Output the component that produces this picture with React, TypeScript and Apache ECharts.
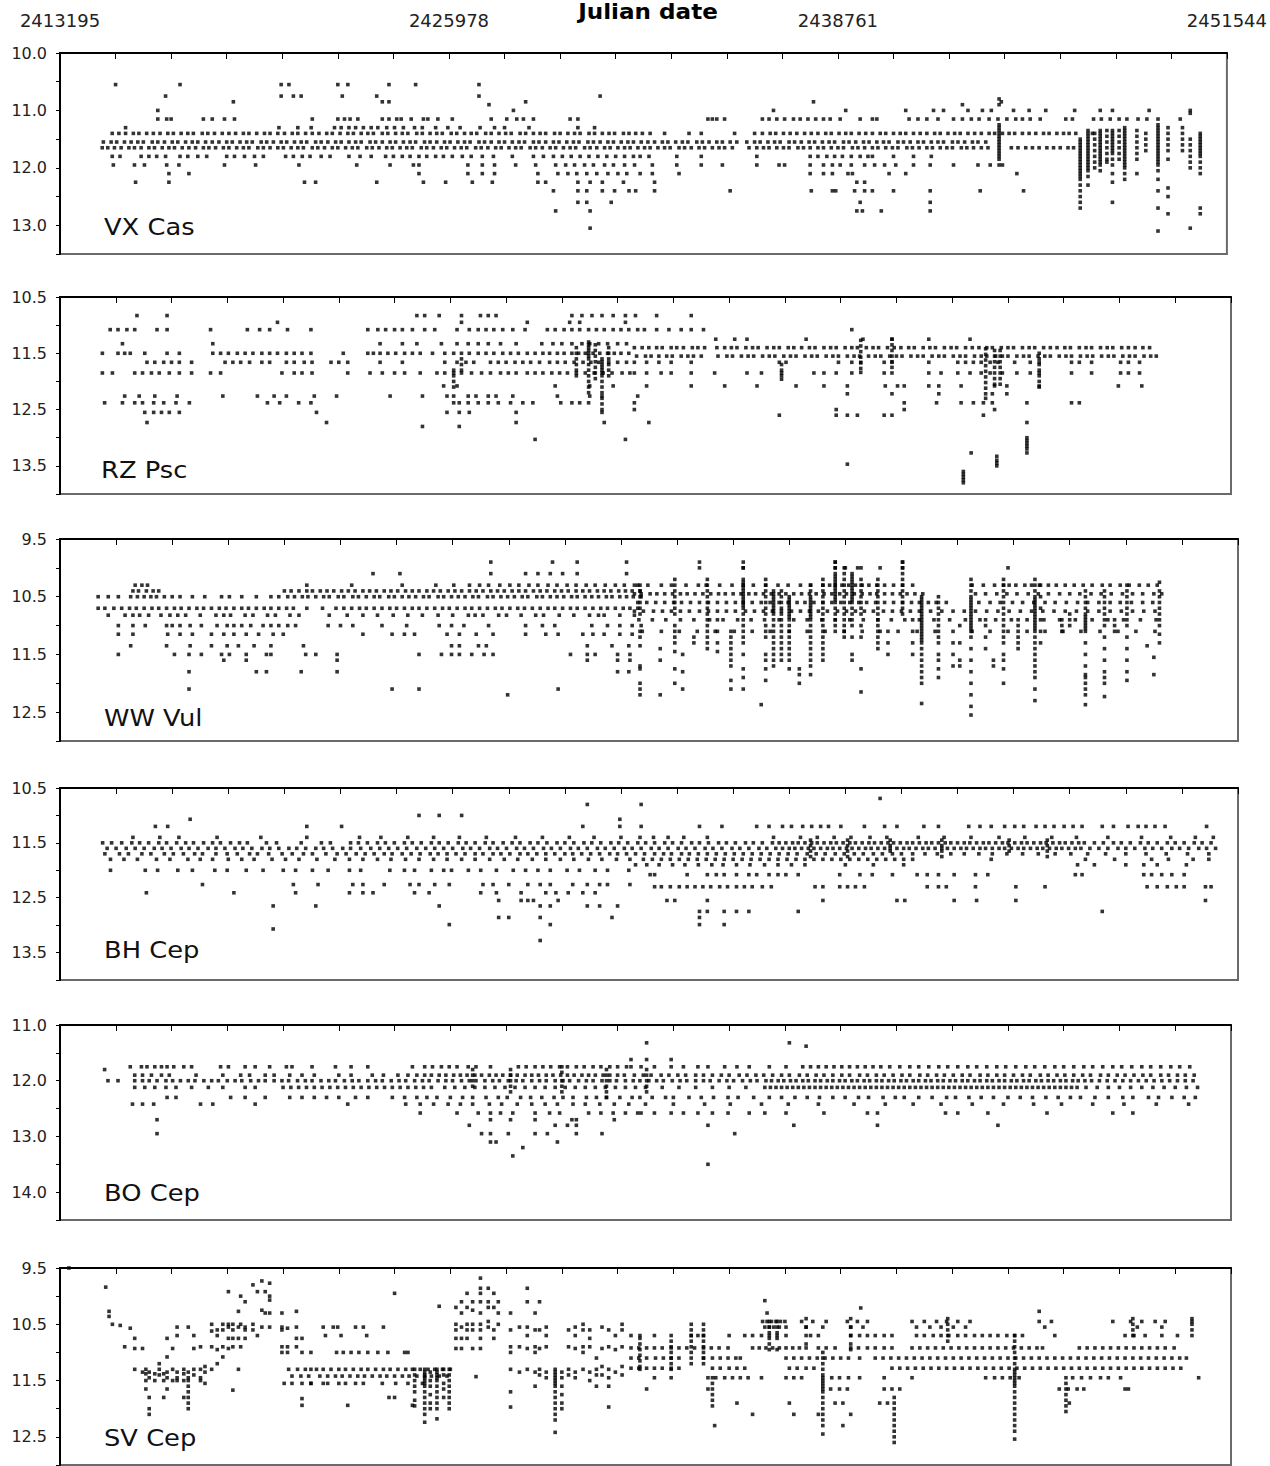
import React, { useEffect, useRef } from "react";
import * as echarts from "echarts";

// ---------- axis definitions ----------
const JD_FIRST = 2413195;
const JD_LAST = 2451544;
const JD_TICK_LABELS = ["2413195", "2425978", "2438761", "2451544"];
const SPAN_YEARS = 105; // 1895 -> 2000, ticks every 5 years
const DAYS_PER_YEAR = (JD_LAST - JD_FIRST) / SPAN_YEARS;
const TICK_COUNT = 21;
const LABEL_EVERY = 7;

const STAR_NAMES = ["VX Cas", "RZ Psc", "WW Vul", "BH Cep", "BO Cep", "SV Cep"];
const MAG_RANGES = [
  [10.0, 13.5],
  [10.5, 14.0],
  [9.5, 13.0],
  [10.5, 14.0],
  [11.0, 14.5],
  [9.5, 13.0],
];

// ---------- data ----------
// ROWS: [magnitude, years since JD 2413195 ...]   COLS: [years since JD 2413195, magnitudes ...]
const VX_CAS_ROWS: number[][] = [
  [10.55, 5.0, 10.8, 19.9, 20.6, 25.0, 25.9, 29.6, 32.0, 37.7],
  [10.75, 9.5, 19.9, 21.0, 21.7, 25.4, 28.5, 37.7, 48.6],
  [10.85, 15.6, 29.0, 29.6, 41.9, 67.8, 84.7],
  [10.9, 38.6, 81.2],
  [11.0, 8.8, 40.8, 64.2, 70.7, 76.1, 78.6, 79.5, 81.7, 83.0, 83.8, 85.8, 87.2, 88.7, 91.3, 93.6, 94.7, 98.0, 101.7],
  [11.15, 8.8, 9.6, 10.0, 12.9, 13.7, 14.8, 15.7, 22.7, 25.0, 25.6, 26.1, 26.8, 29.0, 29.6, 30.3, 30.7, 31.6, 32.7, 33.1, 34.0, 35.3, 38.8, 40.2, 41.1, 41.7, 42.6, 45.9, 46.6, 58.3, 58.7, 59.1, 59.8, 63.2, 63.8, 64.5, 65.2, 66.0, 66.6, 67.3, 68.0, 68.7, 69.3, 70.2, 72.0, 73.1, 73.5, 76.4, 77.2, 78.0, 79.0, 80.4, 81.2, 82.0, 82.7, 83.6, 84.4, 85.2, 86.0, 86.6, 87.3, 88.2, 90.5, 91.1, 93.0, 93.7, 94.5, 95.3, 96.0, 97.0, 97.8, 98.8, 100.8],
  [11.3, 5.9, 19.7, 21.4, 22.6, 24.7, 25.3, 26.0, 26.6, 27.3, 28.0, 28.6, 29.4, 30.1, 30.9, 31.9, 32.6, 33.8, 34.9, 36.0, 37.8, 39.1, 40.0, 42.2, 46.6, 48.1],
  [11.4, 4.7, 5.3, 5.9, 6.6, 7.1, 7.8, 8.4, 9.0, 9.7, 10.2, 10.9, 11.5, 12.0, 12.8, 13.3, 13.9, 14.6, 15.2, 15.8, 16.5, 17.0, 17.7, 18.4, 18.9, 19.6, 20.2, 20.9, 21.4, 22.1, 22.7, 23.3, 24.0, 24.5, 25.2, 25.9, 26.4, 27.1, 27.7, 28.2, 29.0, 29.5, 30.2, 30.8, 31.3, 32.1, 32.6, 33.3, 33.9, 34.4, 35.2, 35.7, 36.4, 37.0, 37.5, 38.3, 38.8, 39.5, 40.1, 40.6, 41.4, 41.9, 42.6, 43.2, 43.7, 44.5, 45.0, 45.7, 46.3, 46.8, 47.6, 48.1, 48.8, 49.4, 49.9, 50.7, 51.2, 51.8, 52.4, 53.1, 54.4, 56.6, 57.7, 60.7, 62.5, 63.2, 63.9, 64.4, 65.1, 65.7, 66.3, 67.0, 67.6, 68.2, 68.9, 69.4, 70.1, 70.7, 71.2, 71.9, 72.5, 73.1, 73.8, 74.3, 75.0, 75.6, 76.1, 76.8, 77.4, 78.0, 78.7, 79.2, 79.9, 80.5, 81.0, 81.7, 82.3, 82.9, 83.6, 84.1, 84.8, 85.4, 85.9, 86.6, 87.2, 87.8, 88.5, 89.0, 89.7, 90.3, 90.8, 91.4, 92.9],
  [11.55, 3.9, 4.6, 5.1, 5.8, 6.4, 7.0, 7.5, 8.3, 8.8, 9.4, 10.1, 10.6, 11.3, 11.9, 12.4, 13.1, 13.7, 14.3, 15.0, 15.5, 16.2, 16.8, 17.3, 18.1, 18.6, 19.2, 19.9, 20.4, 21.1, 21.7, 22.2, 23.0, 23.5, 24.1, 24.8, 25.3, 26.0, 26.6, 27.1, 27.9, 28.4, 29.0, 29.7, 30.2, 30.9, 31.5, 32.0, 32.8, 33.3, 33.9, 34.6, 35.1, 35.8, 36.4, 36.9, 37.7, 38.2, 38.8, 39.5, 40.0, 40.7, 41.3, 41.8, 42.6, 43.1, 43.7, 44.4, 44.9, 45.6, 46.2, 46.7, 47.5, 48.0, 48.6, 49.3, 49.8, 50.5, 51.1, 51.6, 52.3, 52.9, 53.5, 54.2, 54.7, 55.4, 56.0, 56.5, 57.3, 57.8, 58.4, 59.1, 59.6, 60.3, 60.9, 61.8, 62.5, 63.0, 63.7, 64.3, 64.8, 65.6, 66.1, 66.7, 67.4, 67.9, 68.6, 69.2, 69.7, 70.5, 71.0, 71.6, 72.3, 72.8, 73.5, 74.1, 74.6, 75.4, 75.9, 76.5, 77.2, 77.7, 78.4, 79.0, 79.5, 80.3, 80.8, 81.4, 82.1, 82.6, 83.3],
  [11.65, 3.8, 4.3, 4.9, 5.5, 6.2, 6.7, 7.3, 8.0, 8.5, 9.2, 9.8, 10.3, 11.0, 11.6, 12.2, 12.9, 13.4, 14.0, 14.7, 15.2, 15.9, 16.5, 17.0, 17.8, 18.3, 18.9, 19.6, 20.1, 20.8, 21.4, 21.9, 22.7, 23.2, 23.8, 24.5, 25.0, 25.7, 26.3, 26.8, 27.6, 28.1, 28.7, 29.4, 29.9, 30.6, 31.2, 31.7, 32.5, 33.0, 33.6, 34.3, 34.8, 35.5, 36.1, 36.6, 37.4, 37.9, 38.5, 39.2, 39.7, 40.4, 41.0, 41.5, 42.3, 42.8, 43.4, 44.1, 44.6, 45.3, 45.9, 46.4, 47.2, 47.7, 48.3, 49.0, 49.5, 50.2, 50.8, 51.3, 52.0, 52.6, 53.1, 53.8, 54.4, 54.9, 55.7, 56.2, 56.8, 57.5, 58.0, 58.7, 59.3, 59.8, 60.5, 62.0, 62.7, 63.3, 63.8, 64.5, 65.1, 65.6, 66.4, 66.9, 67.5, 68.2, 68.7, 69.4, 70.0, 70.5, 71.3, 71.8, 72.4, 73.1, 73.6, 74.3, 74.9, 75.4, 76.2, 76.7, 77.3, 78.0, 78.5, 79.2, 79.8, 80.3, 81.1, 81.6, 82.2, 82.9, 83.5, 85.6, 86.2, 86.9, 87.5, 88.1, 88.8, 89.4, 90.0, 90.7, 91.2],
  [11.8, 4.7, 5.4, 7.3, 8.0, 8.7, 9.5, 10.8, 11.5, 12.4, 13.2, 15.0, 15.7, 16.6, 17.5, 18.3, 20.3, 21.0, 21.8, 22.5, 23.5, 24.3, 26.0, 27.0, 28.0, 29.3, 30.0, 30.8, 31.5, 32.3, 33.0, 33.8, 34.5, 35.3, 36.2, 37.0, 38.0, 39.0, 40.7, 42.6, 43.5, 44.4, 45.2, 46.0, 46.8, 47.6, 48.4, 49.2, 50.0, 50.8, 51.6, 52.2, 53.0, 55.5, 57.7, 62.7, 67.5, 68.2, 69.0, 69.7, 70.4, 71.2, 72.0, 72.7, 73.1, 75.0, 76.8, 78.4],
  [11.95, 4.8, 6.7, 7.6, 9.6, 10.7, 14.8, 17.6, 21.5, 26.7, 29.7, 31.8, 32.3, 36.7, 38.0, 39.1, 41.0, 42.8, 44.6, 45.5, 46.3, 47.2, 48.0, 49.0, 49.8, 50.8, 51.7, 53.3, 55.5, 57.7, 59.6, 62.7, 64.7, 65.2, 67.5, 68.7, 69.5, 70.2, 71.2, 72.4, 73.3, 74.2, 75.2, 76.8, 78.3, 80.4, 82.6, 83.7, 84.8],
  [12.1, 9.8, 11.6, 32.3, 36.7, 38.0, 39.1, 43.0, 44.8, 45.7, 46.5, 47.4, 48.3, 49.3, 50.2, 51.0, 52.2, 53.3, 55.7, 67.5, 68.7, 69.5, 70.9, 71.3, 74.6, 76.1, 86.1],
  [12.25, 6.8, 9.8, 22.0, 23.0, 28.5, 32.7, 34.7, 37.1, 38.9, 43.0, 43.7, 46.6, 47.7, 48.8, 50.7, 53.5, 71.7, 72.4],
  [12.4, 44.4, 46.6, 47.4, 48.8, 49.9, 51.2, 51.8, 53.5, 60.3, 67.6, 69.5, 69.8, 71.5, 72.4, 73.1, 75.0, 78.3, 82.8, 86.7],
  [12.6, 46.6, 47.4, 49.6, 72.0, 78.3],
  [12.75, 44.6, 47.7, 71.7, 72.2, 73.9, 78.3],
  [13.05, 47.7],
];
const VX_CAS_COLS: number[][] = [
  [84.5, 10.8, 10.9, 11.25, 11.3, 11.35, 11.4, 11.45, 11.5, 11.55, 11.6, 11.65, 11.7, 11.75, 11.8, 11.85, 11.95],
  [91.8, 11.5, 11.55, 11.6, 11.65, 11.7, 11.75, 11.8, 11.85, 11.9, 11.95, 12.0, 12.05, 12.1, 12.15, 12.2, 12.3, 12.4, 12.5, 12.6, 12.7],
  [92.5, 11.35, 11.4, 11.45, 11.5, 11.55, 11.6, 11.65, 11.7, 11.75, 11.8, 11.85, 11.9, 11.95, 12.0, 12.05, 12.15, 12.3],
  [93.1, 11.4, 11.5, 11.6, 11.7, 11.8, 11.9, 12.0],
  [93.6, 11.35, 11.4, 11.45, 11.5, 11.55, 11.6, 11.65, 11.7, 11.75, 11.8, 11.85, 11.9, 11.95, 12.05],
  [94.2, 11.35, 11.45, 11.55, 11.65, 11.75, 11.85, 11.9],
  [94.7, 11.35, 11.4, 11.45, 11.5, 11.55, 11.6, 11.65, 11.7, 11.75, 11.85, 11.95, 12.1, 12.25, 12.6],
  [95.3, 11.35, 11.45, 11.55, 11.65, 11.75, 11.85],
  [95.8, 11.3, 11.35, 11.4, 11.45, 11.5, 11.55, 11.6, 11.65, 11.7, 11.75, 11.8, 11.85, 11.9, 11.95, 12.0, 12.1, 12.2],
  [96.9, 11.35, 11.45, 11.55, 11.65, 11.75, 11.85, 12.1],
  [97.7, 11.4, 11.5, 11.6, 11.7],
  [98.8, 11.25, 11.3, 11.35, 11.4, 11.45, 11.5, 11.55, 11.6, 11.65, 11.7, 11.75, 11.8, 11.85, 11.9, 11.95, 12.05, 12.2, 12.4, 12.7, 13.1],
  [99.7, 11.3, 11.4, 11.5, 11.6, 11.7, 11.85, 12.35, 12.5, 12.8],
  [101.0, 11.3, 11.4, 11.5, 11.6, 11.7],
  [101.7, 11.05, 11.5, 11.6, 11.7, 11.8, 11.9, 12.0, 13.05],
  [102.6, 11.4, 11.45, 11.5, 11.55, 11.6, 11.65, 11.7, 11.75, 11.8, 11.9, 12.0, 12.1, 12.7, 12.8],
];

const RZ_PSC_ROWS: number[][] = [
  [10.83, 6.9, 9.6, 32.0, 32.7, 34.0, 36.0, 37.7, 38.4, 39.1, 45.9, 46.8, 47.7, 48.6, 49.6, 50.7, 51.6, 53.5, 56.6],
  [10.95, 19.5, 36.0, 41.9, 45.7, 46.6, 50.7],
  [11.08, 4.5, 5.2, 6.0, 6.7, 8.7, 9.6, 13.5, 16.8, 17.9, 18.8, 20.4, 22.5, 27.6, 28.5, 29.2, 30.0, 30.7, 31.6, 32.7, 33.6, 35.6, 36.7, 37.5, 38.2, 38.9, 39.7, 40.6, 41.7, 43.7, 44.4, 45.2, 45.9, 46.6, 47.4, 48.1, 48.8, 49.6, 50.3, 51.0, 51.8, 52.4, 53.5, 54.6, 55.7, 56.6, 57.7, 71.0],
  [11.25, 58.8, 60.5, 61.6, 66.9, 72.0, 74.6, 77.9, 81.6],
  [11.33, 5.6, 13.7, 28.7, 30.7, 32.0, 34.2, 35.6, 36.6, 37.5, 38.4, 39.5, 40.9, 43.2, 44.2, 45.0, 45.9, 46.8, 47.5, 48.3, 49.1, 50.0, 50.8],
  [11.4, 51.5, 52.2, 52.8, 53.5, 54.0, 54.8, 55.3, 55.9, 56.7, 57.2, 57.8, 58.9, 59.6, 60.2, 60.7, 61.5, 62.1, 62.6, 63.4, 64.0, 64.5, 65.3, 65.8, 66.5, 67.2, 67.7, 68.5, 69.1, 69.6, 70.4, 71.0, 71.5, 72.3, 72.9, 73.4, 74.2, 74.8, 75.4, 76.1, 76.6, 77.4, 78.0, 78.5, 79.3, 79.9, 80.4, 81.2, 81.8, 82.4, 83.1, 83.6, 84.4, 85.0, 85.5, 86.3, 86.9, 87.4, 88.2, 88.8, 89.4, 90.1, 90.6, 91.4, 92.0, 92.5, 93.3, 93.9, 94.4, 95.2, 95.8, 96.4, 97.1, 97.7],
  [11.5, 3.8, 5.2, 5.8, 6.3, 7.6, 9.6, 10.7, 13.7, 14.4, 15.1, 15.9, 16.6, 17.3, 18.1, 18.8, 19.5, 20.3, 21.0, 21.7, 22.5, 25.4, 27.6, 28.1, 28.7, 29.4, 30.1, 30.9, 31.6, 32.3, 33.4, 34.5, 35.3, 36.0, 36.7, 37.5, 38.2, 38.9, 39.7, 40.4, 41.1, 41.9, 42.6, 43.3, 43.9, 44.6, 45.2, 45.9, 46.5, 47.1, 47.8, 48.4, 49.1, 49.7, 50.3, 51.0],
  [11.55, 51.7, 52.5, 53.0, 53.7, 54.4, 54.9, 55.7, 56.3, 56.8, 57.5, 59.0, 59.8, 60.3, 61.1, 61.7, 62.2, 63.0, 63.6, 64.1, 64.9, 65.5, 66.0, 66.8, 67.4, 67.9, 68.7, 69.3, 69.8, 70.6, 71.2, 71.7, 72.5, 73.1, 73.6, 74.4, 75.0, 75.5, 76.3, 76.9, 77.4, 78.2, 78.8, 79.3, 80.1, 80.7, 81.2, 82.0, 82.6, 83.1, 83.9, 84.5, 85.0, 85.8, 86.4, 86.9, 87.7, 88.3, 88.8, 89.6, 90.2, 90.7, 91.5, 92.1, 92.6, 93.4, 94.0, 94.5, 95.3, 95.9, 96.4, 97.2, 97.8, 98.3],
  [11.66, 7.8, 8.5, 9.3, 10.0, 10.7, 11.8, 14.8, 15.5, 16.2, 17.0, 18.1, 18.8, 20.3, 21.0, 21.9, 22.6, 24.3, 25.0, 25.8, 28.7, 30.7, 34.5, 35.6, 36.4, 37.1, 38.6, 39.3, 40.0, 40.8, 41.5, 42.2, 43.0, 43.9, 44.6, 45.3, 46.1, 46.9, 47.6, 48.3, 49.2, 50.0, 50.8, 51.5, 52.6, 53.7, 54.8, 56.6, 64.5, 65.1, 69.8, 71.0, 71.8, 73.9, 74.6, 77.9, 80.5, 81.2, 81.9, 82.6, 83.4, 84.1, 85.6, 87.0, 87.8, 90.7, 91.4, 92.5, 95.1, 95.8, 96.8],
  [11.85, 3.8, 4.7, 6.7, 7.4, 8.2, 8.9, 9.8, 10.7, 11.8, 13.5, 14.4, 19.9, 21.0, 21.7, 22.6, 25.8, 27.8, 28.9, 30.0, 30.9, 32.3, 33.8, 34.5, 35.3, 36.0, 36.9, 37.8, 38.6, 39.5, 40.2, 40.9, 41.9, 42.6, 43.3, 44.1, 44.8, 45.5, 46.3, 47.1, 47.9, 48.7, 49.5, 50.4, 51.1, 51.5, 52.6, 53.9, 54.8, 56.6, 58.7, 61.6, 62.9, 64.7, 67.6, 68.5, 69.6, 71.0, 73.9, 77.9, 79.0, 80.5, 81.6, 82.6, 83.4, 84.5, 85.8, 87.0, 87.8, 90.7, 92.5, 95.1, 95.8, 96.8],
  [12.08, 34.4, 35.6, 44.4, 47.5, 49.6, 52.6, 56.6, 59.6, 62.5, 66.0, 68.5, 70.6, 74.0, 75.1, 75.7, 77.9, 78.8, 80.8, 83.8, 84.9, 87.8, 94.9, 97.0],
  [12.22, 70.6, 74.6, 78.8, 83.6, 84.9],
  [12.26, 5.8, 7.1, 8.5, 10.5, 14.6, 17.7, 19.2, 20.3, 22.8, 24.8, 29.6, 32.5, 34.7, 35.3, 36.6, 37.3, 38.4, 39.1, 40.6, 44.6, 47.5, 48.6, 51.8],
  [12.38, 4.0, 5.6, 6.7, 7.4, 8.4, 9.3, 10.4, 11.6, 18.6, 19.7, 21.4, 22.5, 35.3, 35.8, 36.6, 37.5, 38.4, 39.3, 40.4, 41.5, 42.4, 44.9, 45.9, 46.6, 47.4, 51.5, 75.7, 78.6, 80.8, 81.9, 82.8, 83.6, 86.7, 90.7, 91.4],
  [12.5, 51.5, 69.6, 75.7, 83.8],
  [12.55, 7.6, 8.4, 9.1, 9.8, 10.7, 23.0, 34.7, 35.8, 36.7, 40.9, 48.6],
  [12.6, 64.5, 69.6, 70.6, 71.5, 73.9, 74.6, 82.8],
  [12.73, 7.8, 23.9, 40.9, 48.8, 52.8, 86.7],
  [12.8, 32.5, 35.8],
  [13.03, 42.6, 50.7],
  [13.47, 70.6],
];
const RZ_PSC_COLS: number[][] = [
  [46.3, 11.4, 11.5, 11.6, 11.7, 11.8, 11.9],
  [47.4, 11.3, 11.35, 11.4, 11.45, 11.5, 11.55, 11.6, 11.7, 11.8, 11.9, 12.0, 12.1, 12.2],
  [48.0, 11.35, 11.45, 11.55, 11.65, 11.75, 11.85, 11.95],
  [48.6, 11.6, 11.65, 11.7, 11.75, 11.8, 11.85, 11.9, 12.0, 12.1, 12.2, 12.3, 12.4, 12.5],
  [49.2, 11.4, 11.5, 11.6, 11.7, 11.8, 11.9],
  [35.3, 11.8, 11.9, 12.0, 12.1],
  [36.0, 11.6, 11.7, 11.8],
  [64.7, 11.7, 11.8, 11.9, 11.96],
  [71.8, 11.27, 11.37, 11.47, 11.57, 11.67, 11.77, 11.84],
  [74.6, 11.25, 11.35, 11.45, 11.55, 11.65, 11.75, 11.85],
  [83.0, 11.42, 11.52, 11.62, 11.72, 11.82, 11.92, 12.02, 12.12, 12.22, 12.3],
  [83.8, 11.45, 11.55, 11.65, 11.75, 11.85, 11.95, 12.05],
  [84.3, 11.45, 11.55, 11.65, 11.75, 11.85, 11.95, 12.05],
  [87.8, 11.5, 11.6, 11.7, 11.8, 11.9, 12.0, 12.1],
  [86.7, 13.0, 13.05, 13.1, 13.15, 13.2, 13.27],
  [84.0, 13.33, 13.4, 13.45, 13.5],
  [81.0, 13.6, 13.65, 13.7, 13.75, 13.8],
  [81.7, 13.27],
];

const WW_VUL_ROWS: number[][] = [
  [9.9, 38.4, 43.9, 46.1, 50.5, 57.0, 60.9, 69.1, 75.1],
  [10.0, 57.0, 60.9, 69.1, 70.0, 71.1, 73.1, 75.1, 84.5],
  [10.1, 27.9, 30.3, 38.4, 41.5, 42.6, 43.7, 44.8, 46.1, 50.5],
  [10.3, 6.7, 7.3, 7.8, 22.0, 26.0, 30.5, 33.5, 35.1, 36.5, 37.4, 38.2, 39.2, 40.1, 40.9, 41.8, 42.6, 43.5, 44.3, 45.2, 46.0, 46.9, 47.7, 48.6, 49.5, 50.3, 51.2, 51.5, 52.4, 53.6, 54.5, 55.8, 56.9, 57.6, 58.8, 59.9, 60.9, 61.8, 62.9, 64.0, 64.9, 66.0, 66.9, 68.0, 68.6, 69.1, 69.7, 70.3, 70.9, 71.5, 72.1, 72.8, 73.5, 74.3, 75.1, 76.0, 81.3, 82.3, 83.3, 84.1, 84.6, 85.2, 86.0, 86.6, 87.3, 88.1, 88.8, 89.6, 90.4, 91.2, 92.0, 92.9, 93.6, 94.5, 95.3, 96.2, 97.0, 97.8],
  [10.4, 6.5, 7.0, 7.7, 8.3, 8.8, 20.0, 20.6, 21.3, 22.0, 22.5, 23.2, 23.8, 24.4, 25.1, 25.7, 26.3, 27.0, 27.6, 28.2, 28.9, 29.5, 30.1, 30.8, 31.4, 32.0, 32.7, 33.3, 33.9, 34.6, 35.2, 35.8, 36.5, 37.1, 37.7, 38.4, 39.0, 39.6, 40.3, 40.9, 41.5, 42.2, 42.8, 43.4, 44.1, 44.7, 45.3, 46.0, 46.6, 47.2, 47.9, 48.5, 49.1, 49.8, 50.4, 51.0, 51.7],
  [10.45, 51.2, 51.8, 52.6, 53.2, 53.9, 54.6, 55.3, 55.9, 56.6, 57.3, 58.0, 58.7, 59.3, 60.0, 60.7, 61.4, 62.0, 62.7, 63.4, 64.1, 64.7, 65.4, 66.1, 66.8, 67.4, 68.1, 68.8, 69.5, 70.1, 70.8, 71.5, 72.2, 72.8, 73.5, 74.2, 74.9, 75.5, 76.2, 76.9, 81.6, 82.5, 83.5, 84.4, 85.3, 86.3, 87.2, 88.1, 89.1, 90.0, 90.9, 91.9, 92.8, 93.7, 94.7, 95.6, 96.5, 97.5, 98.2],
  [10.5, 3.4, 4.3, 5.2, 6.3, 6.9, 7.5, 8.1, 8.6, 9.3, 10.0, 10.7, 11.8, 12.9, 14.4, 15.1, 16.2, 17.5, 18.8, 19.5, 20.3, 20.9, 21.6, 22.1, 22.8, 23.5, 24.0, 24.8, 25.3, 26.1, 26.6, 27.3, 28.0, 28.5, 29.3, 29.8, 30.5, 31.1, 31.7, 32.4, 32.9, 33.7, 34.2, 34.9, 35.5, 36.1, 36.8, 37.3, 38.1, 38.6, 39.3, 39.9, 40.5, 41.2, 41.7, 42.5, 43.0, 43.7, 44.3, 44.9, 45.6, 46.1, 46.8, 47.4, 48.0, 48.7, 49.2, 49.9, 50.5, 51.1, 51.8],
  [10.6, 51.5, 52.3, 53.1, 53.9, 54.7, 55.4, 56.2, 57.0, 57.8, 58.6, 59.4, 60.2, 60.9, 61.7, 62.5, 63.3, 64.1, 64.9, 65.7, 66.4, 67.2, 68.0, 68.8, 69.6, 70.4, 71.2, 71.9, 72.7, 73.5, 74.3, 75.1, 75.9, 76.6, 77.4, 78.1, 79.0, 81.9, 82.9, 83.8, 84.9, 85.8, 86.8, 87.8, 88.7, 89.7, 90.7, 91.6, 92.6, 93.6, 94.5, 95.5, 96.5, 97.4],
  [10.7, 3.4, 4.0, 4.8, 5.5, 6.2, 6.8, 7.5, 8.2, 8.8, 9.5, 10.2, 10.8, 11.5, 12.2, 12.8, 13.5, 14.2, 14.8, 15.5, 16.2, 16.8, 17.5, 18.2, 18.8, 19.5, 20.2, 20.8, 22.0, 23.4, 24.6, 25.3, 26.0, 26.7, 27.3, 28.0, 28.7, 29.4, 30.0, 30.7, 31.4, 32.0, 32.7, 33.4, 34.1, 34.7, 35.4, 36.1, 36.7, 37.4, 38.1, 38.8, 39.4, 40.1, 40.8, 41.4, 42.1, 42.8, 43.5, 44.1, 44.8, 45.5, 46.1, 46.8, 47.5, 48.2, 48.8, 49.5, 50.2, 50.8, 51.5],
  [10.75, 51.2, 52.0, 52.9, 53.7, 54.5, 55.3, 56.1, 57.0, 57.8, 58.6, 59.4, 60.2, 61.1, 61.9, 62.7, 63.5, 64.3, 65.2, 66.0, 66.8, 67.6, 68.4, 69.3, 70.1, 70.9, 71.7, 72.5, 73.4, 74.2, 75.0, 75.8, 76.6, 77.6, 78.6, 79.6, 80.6, 81.6, 82.6, 83.6, 84.6, 85.6, 86.6, 87.6, 88.6, 89.6, 90.6, 91.6, 92.6, 93.6, 94.6, 95.6, 96.6, 97.6],
  [10.82, 4.3, 5.8, 6.5, 7.1, 7.9, 9.0, 9.8, 10.5, 11.2, 12.5, 13.9, 14.6, 15.2, 16.5, 17.2, 18.5, 19.2, 20.5, 21.3, 24.0, 25.6, 27.0, 28.3, 29.7, 31.0, 32.3, 33.7, 35.0, 36.4, 37.0, 37.7, 39.1, 39.8, 41.1, 42.4, 43.1, 44.5, 45.8, 47.2, 48.0, 48.5, 49.9, 51.2],
  [10.9, 51.6, 52.8, 54.0, 55.3, 56.5, 57.9, 59.1, 60.4, 61.6, 62.8, 64.1, 65.4, 66.6, 67.9, 69.1, 70.4, 71.6, 72.9, 74.1, 75.3, 76.6, 77.9, 79.3, 80.7, 82.0, 83.4, 84.8, 86.2, 87.7, 89.1, 90.5, 92.0, 93.4, 94.8, 96.3, 97.7],
  [11.0, 5.2, 6.5, 7.6, 9.5, 10.0, 10.7, 11.6, 12.6, 14.0, 14.9, 15.5, 16.2, 17.0, 18.1, 18.8, 19.5, 20.3, 21.0, 23.9, 25.0, 26.1, 28.7, 30.9, 33.8, 34.9, 36.0, 38.2, 41.5, 43.0, 44.1, 47.4, 48.8, 49.9, 51.0, 51.8],
  [11.1, 51.9, 53.6, 55.2, 56.8, 58.4, 60.1, 61.7, 63.3, 65.0, 66.6, 68.2, 69.9, 71.5, 73.1, 74.7, 76.4, 78.0, 79.6, 81.3, 82.9, 84.5, 86.2, 87.8, 89.4, 91.0, 92.7, 94.3, 95.9, 97.6],
  [11.15, 5.2, 6.5, 9.6, 10.7, 11.8, 13.5, 14.6, 15.5, 16.6, 17.7, 19.0, 19.9, 27.0, 29.6, 30.7, 31.6, 34.5, 35.6, 37.1, 38.6, 41.5, 43.3, 44.4, 46.6, 47.5, 48.5, 49.9, 51.0],
  [11.35, 6.3, 9.5, 11.6, 13.5, 14.9, 15.9, 17.3, 18.8, 21.7, 34.9, 35.6, 37.3, 38.0, 47.0, 49.2, 50.7, 96.9],
  [11.5, 5.2, 10.2, 11.5, 12.6, 14.4, 15.1, 16.6, 18.4, 18.8, 21.9, 22.8, 24.7, 32.0, 34.0, 34.9, 35.6, 36.7, 37.8, 38.6, 45.5, 47.0, 47.7, 49.7, 50.8],
  [11.6, 14.6, 16.6, 24.7, 47.0, 49.7, 50.8],
  [11.8, 11.5, 17.5, 18.4, 21.5, 24.7, 49.7, 50.7],
  [12.1, 11.5, 29.6, 32.0, 44.4],
  [12.2, 39.9],
];
const WW_VUL_COLS: number[][] = [
  [51.7, 10.3, 10.4, 10.5, 10.6, 10.7, 10.8, 11.1, 11.2, 11.35, 11.7, 11.75, 12.0, 12.1, 12.2],
  [53.5, 11.4, 11.6, 12.2],
  [54.8, 10.2, 10.3, 10.4, 10.5, 10.6, 10.7, 10.8, 11.0, 11.1, 11.2, 11.3, 11.45, 11.75, 12.0],
  [55.5, 11.5, 11.8, 12.1],
  [56.5, 11.2, 11.3],
  [57.7, 10.2, 10.3, 10.4, 10.5, 10.6, 10.7, 10.8, 10.9, 11.0, 11.1, 11.2, 11.3, 11.4],
  [58.6, 10.9, 11.1, 11.3, 11.45],
  [59.8, 11.1, 11.2, 11.3, 11.4, 11.5, 11.6, 11.7, 11.95, 12.1],
  [60.9, 10.0, 10.2, 10.25, 10.3, 10.35, 10.4, 10.45, 10.5, 10.55, 10.6, 10.65, 10.7, 10.8, 10.9, 11.0, 11.1, 11.2, 11.3, 11.5, 11.75, 11.9, 12.1],
  [62.5, 12.37],
  [62.9, 10.2, 10.3, 10.4, 10.5, 10.6, 10.7, 10.8, 11.0, 11.1, 11.2, 11.5, 11.6, 11.75, 11.95],
  [63.6, 10.4, 10.45, 10.5, 10.55, 10.6, 10.65, 10.7, 10.75, 10.8, 10.9, 11.0, 11.1, 11.2, 11.3, 11.4, 11.5, 11.6, 11.7],
  [64.3, 10.4, 10.5, 10.6, 10.7, 10.8, 10.9, 11.0, 11.1, 11.2, 11.3, 11.4, 11.5, 11.6],
  [65.0, 10.5, 10.55, 10.6, 10.65, 10.7, 10.75, 10.8, 10.85, 10.9, 11.0, 11.1, 11.2, 11.3, 11.4, 11.5, 11.6, 11.75],
  [65.9, 11.75, 11.85, 12.0],
  [66.9, 10.3, 10.4, 10.5, 10.55, 10.6, 10.65, 10.7, 10.75, 10.8, 10.85, 10.9, 11.0, 11.1, 11.2, 11.3, 11.4, 11.5, 11.6, 11.7, 11.85],
  [68.0, 10.2, 10.3, 10.4, 10.5, 10.6, 10.7, 10.8, 10.9, 11.0, 11.1, 11.2, 11.3, 11.4, 11.5, 11.6],
  [69.1, 9.9, 10.0, 10.1, 10.15, 10.2, 10.25, 10.3, 10.35, 10.4, 10.45, 10.5, 10.55, 10.6, 10.7, 10.8, 10.9, 11.0, 11.1],
  [69.9, 10.0, 10.1, 10.2, 10.3, 10.4, 10.5, 10.6, 10.7, 10.8, 10.9, 11.0, 11.1, 11.2],
  [70.6, 10.1, 10.15, 10.2, 10.25, 10.3, 10.35, 10.4, 10.45, 10.5, 10.55, 10.6, 10.7, 10.8, 10.9, 11.0, 11.2, 11.5, 11.6],
  [71.4, 10.0, 10.2, 10.3, 10.4, 10.5, 10.6, 10.7, 10.8, 11.0, 11.2, 11.75, 12.15],
  [72.9, 10.2, 10.3, 10.4, 10.5, 10.6, 10.7, 10.8, 10.9, 11.0, 11.1, 11.2, 11.3, 11.4],
  [73.8, 11.1, 11.3, 11.5],
  [75.1, 9.9, 10.0, 10.1, 10.2, 10.3, 10.4, 10.5, 10.6, 10.7, 10.8],
  [76.0, 10.9, 11.1, 11.3, 11.5],
  [76.8, 10.5, 10.55, 10.6, 10.65, 10.7, 10.75, 10.8, 10.85, 10.9, 10.95, 11.0, 11.05, 11.1, 11.15, 11.2, 11.25, 11.3, 11.4, 11.5, 11.6, 11.7, 11.8, 11.9, 12.0, 12.35],
  [78.3, 10.5, 10.6, 10.7, 10.8, 10.9, 11.0, 11.1, 11.2, 11.3, 11.5, 11.6, 11.75, 11.9],
  [79.6, 11.3, 11.5, 11.7],
  [80.2, 11.0, 11.3, 11.6, 11.7],
  [81.2, 10.2, 10.3, 10.4, 10.5, 10.55, 10.6, 10.65, 10.7, 10.75, 10.8, 10.85, 10.9, 10.95, 11.0, 11.05, 11.1, 11.2, 11.4, 11.6, 11.8, 12.0, 12.2, 12.4, 12.55],
  [82.5, 10.9, 11.0, 11.2, 11.4],
  [83.2, 11.6, 11.7],
  [84.1, 10.2, 10.3, 10.4, 10.5, 10.6, 10.7, 10.8, 10.9, 11.0, 11.1, 11.2, 11.3, 11.5, 11.6, 11.75, 12.0],
  [85.4, 10.9, 11.0, 11.1, 11.2, 11.3, 11.4],
  [86.9, 10.2, 10.3, 10.4, 10.5, 10.55, 10.6, 10.65, 10.7, 10.75, 10.8, 10.85, 10.9, 10.95, 11.0, 11.05, 11.1, 11.2, 11.3, 11.4, 11.5, 11.6, 11.7, 11.8, 11.9, 12.1, 12.3],
  [87.4, 10.3, 10.5, 10.7, 10.9, 11.1, 11.3],
  [89.3, 10.9, 11.0, 11.1],
  [90.0, 10.8, 10.9, 11.0],
  [91.4, 10.4, 10.5, 10.6, 10.7, 10.8, 10.85, 10.9, 10.95, 11.0, 11.05, 11.1, 11.3, 11.5, 11.7, 11.85, 11.9, 12.0, 12.1, 12.2, 12.37],
  [93.1, 10.4, 10.5, 10.6, 10.7, 10.8, 10.9, 11.0, 11.2, 11.4, 11.6, 11.8, 11.9, 12.0, 12.23],
  [94.0, 10.9, 11.0, 11.1],
  [95.1, 10.3, 10.4, 10.5, 10.6, 10.7, 10.8, 10.9, 11.0, 11.2, 11.4, 11.6, 11.8, 11.95],
  [97.5, 11.55, 11.85],
  [98.0, 10.25, 10.4, 10.5, 10.6, 10.7, 10.8, 10.9, 11.0, 11.15, 11.3],
];

const BH_CEP_ROWS: number[][] = [
  [10.69, 73.1],
  [10.8, 47.0, 51.8],
  [11.0, 32.0, 33.8, 35.8],
  [11.07, 11.6, 49.9],
  [11.2, 8.5, 9.6, 22.0, 25.1, 46.6, 49.9, 51.8, 57.0, 59.0, 62.1, 63.2, 64.4, 65.2, 66.2, 67.0, 67.8, 68.5, 69.6, 71.7, 73.5, 74.6, 77.0, 78.3, 81.0, 82.0, 83.0, 84.2, 85.1, 85.9, 87.0, 87.8, 88.6, 89.5, 90.3, 91.1, 92.9, 93.9, 95.2, 96.1, 96.8, 97.6, 98.5, 102.2],
  [11.4, 6.5, 8.9, 10.6, 14.0, 17.9, 22.0, 26.7, 28.6, 31.0, 33.3, 35.6, 38.0, 40.6, 43.0, 45.4, 47.6, 50.0, 51.7, 52.9, 54.2, 55.6, 57.7, 63.6, 66.0, 67.5, 69.0, 70.5, 72.2, 73.7, 76.5, 78.8, 81.2, 83.7, 86.0, 88.4, 90.6, 93.4, 96.4, 99.0, 101.2, 102.8],
  [11.5, 3.8, 4.6, 5.5, 6.4, 7.1, 7.9, 8.8, 9.5, 10.4, 11.2, 11.9, 12.8, 13.6, 14.3, 15.2, 16.0, 16.7, 18.4, 19.3, 21.5, 23.3, 24.1, 25.9, 26.6, 27.4, 28.3, 29.0, 29.8, 30.7, 31.4, 32.2, 33.1, 33.8, 34.6, 35.5, 36.2, 37.0, 37.9, 38.6, 39.5, 40.3, 41.0, 41.9, 42.6, 43.4, 44.3, 45.0, 45.8, 46.7, 47.4, 48.2, 49.1, 49.8, 50.6, 51.5, 52.2, 53.0, 53.9, 54.6, 55.4, 56.3, 57.0, 57.8, 58.7, 59.4, 60.2, 61.1, 61.8, 62.6, 63.5, 64.1, 64.7, 65.3, 65.8, 66.4, 67.0, 67.5, 68.1, 68.7, 69.2, 69.8, 70.4, 70.9, 71.5, 72.1, 72.6, 73.2, 73.8, 74.3, 74.9, 75.5, 76.0, 76.6, 77.2, 77.7, 78.3, 78.9, 79.4, 80.0, 80.6, 81.1, 81.7, 82.3, 82.8, 83.4, 84.0, 84.5, 85.1, 85.7, 86.2, 86.8, 87.4, 87.9, 88.5, 89.1, 89.6, 90.2, 90.8, 91.3, 92.2, 93.0, 93.9, 94.6, 95.4, 96.3, 97.0, 97.8, 98.7, 99.4, 100.2, 101.1, 101.8, 102.6],
  [11.6, 4.2, 5.0, 5.9, 6.7, 7.5, 8.4, 9.1, 9.9, 10.8, 11.5, 12.3, 13.2, 13.9, 14.7, 15.6, 16.3, 17.1, 18.0, 18.7, 19.5, 20.4, 21.1, 21.9, 22.8, 23.5, 24.3, 25.2, 25.9, 26.8, 27.7, 28.5, 29.3, 30.1, 30.9, 31.8, 32.6, 33.4, 34.2, 35.0, 35.9, 36.6, 37.4, 38.3, 39.0, 39.8, 40.7, 41.4, 42.2, 43.1, 43.8, 44.6, 45.5, 46.2, 47.0, 47.9, 48.6, 49.4, 50.3, 51.0, 51.8, 52.7, 53.4, 54.2, 55.1, 55.8, 56.6, 57.5, 58.2, 59.0, 59.9, 60.6, 61.4, 62.3, 63.0, 63.8, 64.4, 65.0, 65.5, 66.1, 66.7, 67.2, 67.8, 68.4, 68.9, 69.5, 70.1, 70.6, 71.2, 71.8, 72.3, 72.9, 73.5, 74.0, 74.6, 75.2, 75.7, 76.3, 76.9, 77.4, 78.0, 78.6, 79.1, 79.7, 80.3, 80.8, 81.4, 82.0, 82.5, 83.1, 83.7, 84.2, 84.8, 85.4, 85.9, 86.5, 87.1, 87.6, 88.2, 88.8, 89.3, 89.9, 90.5, 91.0, 91.8, 92.6, 93.4, 94.3, 95.0, 95.8, 96.7, 97.4, 98.2, 99.1, 99.8, 100.6, 101.5, 102.2, 103.0],
  [11.7, 4.0, 5.3, 6.1, 7.3, 8.1, 9.3, 10.1, 11.0, 12.0, 12.7, 13.9, 14.9, 15.8, 16.9, 17.6, 18.6, 19.8, 20.7, 21.7, 22.5, 23.7, 24.7, 25.5, 26.4, 27.2, 28.0, 28.9, 29.6, 30.5, 31.3, 32.1, 33.0, 33.7, 34.5, 35.3, 36.1, 37.0, 37.7, 38.6, 39.3, 40.1, 41.0, 41.7, 42.5, 43.3, 44.1, 45.0, 45.7, 46.5, 47.3, 48.1, 49.0, 49.7, 50.5, 51.3, 52.1, 53.0, 53.8, 54.5, 55.4, 56.1, 56.9, 57.7, 58.5, 59.3, 60.1, 60.9, 61.7, 62.5, 63.3, 64.1, 64.9, 65.7, 66.6, 67.4, 68.2, 69.1, 69.9, 70.8, 71.6, 72.5, 73.3, 74.2, 75.0, 76.0, 77.1, 78.2, 79.4, 80.6, 81.9, 83.1, 84.4, 85.8, 87.2, 88.7, 90.1, 91.6, 93.2, 95.0, 96.8, 98.6, 100.5, 102.4],
  [11.8, 4.5, 5.7, 6.9, 8.6, 9.8, 11.4, 12.5, 13.6, 15.0, 16.2, 17.3, 18.9, 20.1, 21.3, 22.9, 24.5, 25.8, 27.0, 28.3, 29.5, 30.8, 32.0, 33.3, 34.5, 35.8, 37.0, 38.3, 39.6, 40.8, 42.1, 43.3, 44.6, 45.8, 47.1, 48.3, 49.6, 50.8, 52.0, 52.8, 53.6, 54.4, 55.2, 56.0, 56.8, 57.6, 58.4, 59.2, 60.0, 60.8, 61.6, 62.4, 63.2, 64.0, 64.8, 65.6, 66.4, 67.2, 68.0, 68.8, 69.6, 70.4, 71.2, 72.0, 72.8, 73.6, 74.4, 75.2, 76.0, 83.0, 91.4, 94.0, 97.3, 98.8, 101.0, 102.4],
  [11.9, 51.3, 52.3, 53.4, 54.6, 55.7, 56.9, 58.1, 59.1, 60.3, 61.5, 62.8, 64.0, 65.2, 66.4, 70.0, 72.5, 75.2, 90.7, 92.2, 95.0, 96.6, 97.8, 100.4],
  [12.0, 4.5, 7.6, 8.7, 10.5, 11.8, 13.8, 14.9, 16.6, 18.1, 19.9, 21.0, 22.5, 23.9, 25.8, 26.8, 29.4, 30.7, 31.6, 33.1, 34.2, 34.9, 36.4, 37.5, 38.9, 40.4, 41.5, 42.6, 43.7, 45.2, 46.3, 47.7, 48.8, 50.7],
  [12.08, 52.6, 53.0, 55.9, 57.7, 58.5, 59.2, 60.3, 61.4, 62.1, 63.2, 64.0, 64.7, 65.8, 69.5, 71.3, 72.4, 74.2, 76.4, 77.3, 78.3, 79.7, 81.6, 82.7, 90.5, 91.1, 96.6, 97.3, 98.2, 99.1, 100.2],
  [12.26, 12.7, 20.8, 23.0, 26.1, 27.0, 28.9, 31.2, 32.0, 33.4, 34.7, 37.7, 38.6, 40.0, 41.7, 42.8, 43.7, 45.7, 47.0, 48.1, 48.8, 50.8],
  [12.3, 53.0, 53.6, 54.4, 55.2, 55.9, 56.6, 57.3, 58.0, 58.8, 59.5, 60.3, 61.0, 61.7, 62.6, 63.4, 67.3, 68.0, 69.5, 70.2, 70.9, 71.7, 77.3, 78.3, 79.0, 81.6, 85.2, 87.8, 96.9, 97.8, 98.7, 99.5, 100.2, 102.1, 102.6],
  [12.41, 7.7, 15.5, 21.0, 25.8, 27.0, 27.9, 31.6, 32.9, 37.5, 38.9, 41.1, 43.3, 44.2, 45.3, 46.6, 47.7],
  [12.55, 39.1, 41.1, 41.7, 42.2, 44.4, 54.1, 54.8, 57.7, 68.0, 74.6, 75.3, 79.7, 81.7, 85.2, 102.1],
  [12.65, 19.0, 22.8, 33.8, 42.8, 43.7, 47.0, 48.1, 49.7],
  [12.75, 57.0, 57.7, 59.2, 60.3, 61.4, 65.8, 92.9],
  [12.86, 39.1, 40.0, 42.8, 49.2, 57.0],
  [12.99, 34.7, 43.7, 57.0, 59.2],
  [13.07, 19.0],
  [13.28, 42.8],
];
const BH_CEP_COLS: number[][] = [
  [66.9, 11.45, 11.55, 11.65, 11.75],
  [70.2, 11.45, 11.55, 11.65, 11.75],
  [74.0, 11.45, 11.55, 11.65],
  [78.6, 11.45, 11.55, 11.65, 11.75],
  [84.6, 11.45, 11.55, 11.65],
  [88.0, 11.45, 11.55, 11.65, 11.75],
];

const BO_CEP_ROWS: number[][] = [
  [11.32, 52.6, 65.4],
  [11.38, 66.9],
  [11.62, 51.2, 52.6, 54.8],
  [11.75, 6.3, 7.3, 7.8, 8.5, 9.1, 9.6, 10.2, 11.1, 11.8, 14.4, 15.1, 16.6, 17.5, 18.8, 20.3, 20.8, 22.6, 24.7, 26.1, 27.6, 31.6, 32.7, 33.4, 34.2, 34.9, 35.6, 36.6, 37.3, 38.6, 41.1, 41.8, 42.6, 43.3, 44.0, 44.8, 45.5, 46.3, 47.0, 47.8, 48.5, 49.3, 50.0, 50.8, 51.2, 52.1, 53.3, 54.8, 55.9, 57.2, 58.1, 59.6, 60.7, 61.8, 63.6, 65.1, 66.6, 67.3, 68.0, 68.7, 69.4, 70.1, 70.8, 71.5, 72.2, 72.9, 73.6, 74.4, 75.3, 76.2, 77.0, 77.9, 78.8, 79.6, 80.5, 81.4, 82.2, 83.1, 84.0, 84.8, 85.7, 86.6, 87.4, 88.3, 89.2, 90.0, 90.9, 91.8, 92.6, 93.5, 94.4, 95.2, 96.1, 97.0, 97.8, 98.7, 99.6, 100.4, 101.3],
  [11.8, 4.0],
  [11.9, 6.7, 7.4, 8.2, 9.1, 9.8, 12.2, 14.6, 16.2, 17.0, 18.4, 19.2, 20.6, 21.7, 22.8, 25.0, 26.1, 28.0, 29.0, 30.3, 31.2, 32.0, 32.7, 33.3, 34.0, 34.6, 35.3, 35.9, 36.5, 37.2, 37.8, 38.5, 39.1, 39.7, 40.4, 41.0, 41.7, 42.3, 42.9, 43.6, 44.2, 44.9, 45.5, 46.1, 46.8, 47.4, 48.0, 48.7, 49.3, 50.0, 50.6, 51.5, 52.3, 53.0, 53.9, 54.6, 55.4, 56.1, 57.0, 57.7, 58.5, 59.3, 60.0, 60.9, 61.6, 62.4, 63.1, 63.9, 64.7, 65.4, 66.3, 67.0, 67.8, 68.5, 69.3, 70.1, 70.8, 71.7, 72.4, 73.2, 73.9, 74.7, 75.5, 76.2, 77.1, 77.8, 78.6, 79.3, 80.1, 80.9, 81.6, 82.5, 83.2, 84.0, 84.7, 85.5, 86.3, 87.0, 87.9, 88.6, 89.4, 90.1, 90.9, 91.7, 92.4, 93.3, 94.0, 94.8, 95.5, 96.3, 97.1, 97.8, 98.7, 99.4, 100.2, 100.9, 101.7],
  [12.0, 4.3, 5.2, 6.7, 7.4, 8.0, 8.7, 9.5, 10.1, 10.8, 11.5, 12.1, 12.9, 13.6, 14.2, 15.0, 15.7, 16.3, 17.1, 17.8, 18.4, 19.2, 19.9, 20.5, 21.3, 22.0, 22.6, 23.4, 24.1, 24.7, 25.5, 26.2, 26.8, 27.6, 28.3, 28.9, 29.7, 30.4, 31.0, 31.8, 32.5, 33.1, 33.9, 34.6, 35.2, 36.0, 36.7, 37.3, 38.1, 38.8, 39.4, 40.2, 40.9, 41.5, 42.3, 43.0, 43.6, 44.4, 45.1, 45.7, 46.5, 47.2, 47.8, 48.6, 49.3, 49.9, 50.7, 51.4, 52.0, 52.8, 53.5, 54.1, 54.9, 55.6, 56.2, 57.0, 57.7, 58.3, 59.1, 59.8, 60.4, 61.2, 61.9, 62.5, 63.3, 63.8, 64.4, 64.9, 65.5, 66.0, 66.6, 67.1, 67.7, 68.2, 68.8, 69.3, 69.9, 70.4, 71.0, 71.5, 72.1, 72.6, 73.2, 73.7, 74.3, 74.8, 75.4, 75.9, 76.5, 77.0, 77.6, 78.1, 78.7, 79.2, 79.8, 80.3, 80.9, 81.4, 82.0, 82.5, 83.1, 83.6, 84.2, 84.7, 85.3, 85.8, 86.4, 86.9, 87.5, 88.0, 88.6, 89.1, 89.7, 90.2, 90.8, 91.3, 91.9, 92.5, 93.2, 93.9, 94.6, 95.3, 96.0, 96.7, 97.4, 98.1, 98.8, 99.5, 100.2, 100.9, 101.6],
  [12.12, 6.7, 7.6, 8.5, 9.5, 10.4, 11.8, 13.3, 14.6, 16.6, 17.5, 20.0, 20.7, 21.4, 22.1, 22.8, 23.5, 24.2, 24.9, 25.6, 26.3, 27.0, 27.7, 28.4, 29.1, 29.8, 30.5, 31.2, 31.9, 32.6, 33.3, 34.5, 35.4, 36.3, 37.2, 38.1, 39.0, 39.9, 40.8, 41.7, 42.6, 43.5, 44.4, 45.3, 46.2, 47.1, 48.0, 48.9, 49.8, 50.7, 51.6, 52.5, 54.0, 55.5, 57.0, 58.5, 60.0, 61.5, 63.2, 63.7, 64.2, 64.7, 65.2, 65.7, 66.2, 66.7, 67.2, 67.7, 68.2, 68.7, 69.2, 69.7, 70.2, 70.7, 71.2, 71.7, 72.2, 72.7, 73.2, 73.7, 74.2, 74.7, 75.2, 75.7, 76.2, 76.7, 77.2, 77.7, 78.2, 78.7, 79.2, 79.7, 80.2, 80.7, 81.2, 81.7, 82.2, 82.7, 83.2, 83.7, 84.2, 84.7, 85.2, 85.7, 86.2, 86.7, 87.2, 87.7, 88.2, 88.7, 89.2, 89.7, 90.2, 90.7, 91.2, 92.0, 93.0, 94.0, 95.0, 96.0, 97.0, 98.0, 99.0, 100.0, 101.0, 102.0],
  [12.3, 9.6, 10.4, 15.3, 16.6, 18.4, 20.6, 21.7, 22.8, 23.9, 25.0, 26.5, 27.6, 29.8, 30.9, 32.0, 32.9, 33.8, 35.0, 36.1, 37.0, 38.2, 39.3, 40.1, 41.3, 42.2, 43.2, 44.3, 45.1, 46.0, 47.2, 48.1, 49.0, 50.2, 51.3, 52.0, 53.1, 54.3, 55.0, 56.4, 57.5, 58.6, 59.9, 60.8, 62.2, 63.6, 64.7, 65.9, 67.0, 68.1, 69.3, 70.4, 71.6, 72.5, 73.8, 74.9, 75.7, 77.0, 78.2, 79.5, 80.3, 81.5, 82.6, 83.7, 85.0, 86.1, 87.2, 88.4, 89.5, 90.6, 91.5, 92.8, 94.0, 95.3, 96.2, 97.6, 98.5, 99.7, 100.8, 101.8],
  [12.42, 6.5, 7.4, 8.4, 12.6, 13.7, 17.5, 25.8, 31.0, 32.3, 33.5, 34.8, 35.9, 37.0, 38.5, 39.6, 41.0, 42.3, 43.5, 44.6, 46.0, 47.1, 48.4, 49.7, 51.0, 52.5, 55.0, 57.8, 60.1, 62.9, 65.3, 68.0, 71.2, 74.0, 76.5, 79.0, 81.8, 84.6, 87.3, 89.8, 92.6, 95.4, 98.3, 101.2],
  [12.58, 32.3, 35.6, 37.5, 38.6, 39.5, 40.6, 42.6, 43.9, 44.8, 47.4, 48.5, 49.6, 50.7, 51.8, 52.1, 53.3, 54.8, 55.9, 57.2, 58.5, 59.9, 61.8, 63.2, 65.1, 68.5, 72.4, 73.3, 79.4, 80.5, 83.2, 88.5, 94.4, 96.2],
  [12.7, 8.7, 38.6, 40.4, 42.6, 45.9, 46.3, 49.7],
  [12.8, 36.7, 44.4, 45.5, 46.3, 58.1, 65.8, 73.3, 84.1],
  [12.95, 8.7, 37.8, 38.6, 40.2, 42.6, 43.7, 46.3, 48.6, 60.5],
  [13.1, 38.6, 39.1, 44.6],
  [13.2, 41.5],
  [13.35, 40.6],
  [13.5, 58.1],
];
const BO_CEP_COLS: number[][] = [
  [37.0, 11.8, 11.9, 12.0, 12.1],
  [40.4, 11.8, 11.9, 12.0, 12.1, 12.2],
  [45.0, 11.75, 11.85, 12.0, 12.1, 12.2],
  [49.0, 11.8, 11.9, 12.0, 12.1, 12.2, 12.3],
  [52.6, 11.8, 11.9, 12.0, 12.1, 12.2],
];

const SV_CEP_ROWS: number[][] = [
  [10.08, 63.2],
  [10.21, 71.8],
  [10.27, 87.8],
  [10.3, 63.4],
  [10.45, 63.0, 63.4, 63.8, 64.2, 64.6, 65.0, 66.5, 67.5, 68.7, 70.6, 71.5, 72.4, 76.4, 77.5, 78.6, 79.5, 80.5, 81.6, 87.8, 88.9, 94.4, 96.0, 97.0, 98.2, 99.1, 101.5],
  [10.55, 23.6, 24.5, 24.9, 26.5, 27.2, 29.0, 63.2, 63.6, 64.0, 64.5, 65.1, 66.9, 68.4, 70.9, 72.0, 76.8, 78.0, 79.0, 80.1, 81.2, 88.3, 96.6, 98.8],
  [10.7, 23.8, 25.2, 27.5, 51.2, 52.0, 53.3, 56.6, 57.2, 57.7, 60.0, 61.4, 62.1, 62.9, 63.6, 64.3, 65.1, 67.3, 68.0, 70.9, 71.7, 72.4, 73.1, 73.9, 74.6, 76.8, 77.5, 78.3, 79.0, 79.7, 80.5, 81.2, 82.0, 82.7, 83.4, 84.1, 84.9, 85.6, 86.3, 89.2, 95.5, 96.3, 97.3, 98.8, 100.2],
  [10.92, 51.2, 51.9, 52.6, 53.3, 54.0, 54.8, 55.5, 56.2, 56.9, 57.7, 58.4, 59.1, 59.9, 62.1, 62.7, 63.3, 63.9, 64.5, 65.1, 65.7, 66.3, 66.9, 68.0, 68.7, 69.5, 70.9, 71.6, 72.4, 73.1, 73.9, 74.6, 76.4, 77.1, 77.8, 78.5, 79.2, 79.9, 80.6, 81.3, 82.0, 82.7, 83.4, 84.1, 84.8, 85.5, 86.2, 86.9, 87.6, 88.1, 91.4, 92.1, 92.8, 93.5, 94.2, 94.9, 95.6, 96.3, 97.0, 97.7, 98.4, 99.1, 99.9],
  [11.0, 24.8, 25.4, 26.1, 26.8, 27.6, 28.5, 29.4, 30.9, 31.2],
  [11.1, 51.2, 51.9, 52.6, 53.4, 54.1, 54.8, 55.5, 57.7, 58.5, 59.2, 59.9, 60.6, 61.0, 65.1, 65.8, 66.5, 67.2, 67.9, 68.6, 69.3, 70.0, 70.7, 71.7, 73.1, 73.8, 74.5, 75.2, 75.9, 76.6, 77.3, 78.0, 78.7, 79.4, 80.1, 80.8, 81.5, 82.2, 82.9, 83.6, 84.3, 85.0, 85.7, 86.4, 87.1, 87.8, 88.5, 89.2, 89.9, 90.6, 91.3, 92.0, 92.7, 93.4, 94.1, 94.8, 95.5, 96.2, 96.9, 97.6, 98.3, 99.0, 99.7, 100.4, 101.0],
  [11.28, 51.2, 51.9, 52.6, 53.3, 54.0, 54.8, 55.5, 58.5, 59.2, 60.0, 60.7, 61.4, 65.4, 66.1, 66.9, 67.6, 74.6, 75.3, 76.0, 76.7, 77.4, 78.1, 78.8, 79.5, 80.2, 80.9, 81.6, 82.3, 83.0, 83.7, 84.4, 85.1, 85.8, 86.5, 87.2, 87.9, 88.6, 89.3, 90.0, 90.7, 91.4, 92.1, 92.8, 93.5, 94.2, 94.9, 95.6, 96.3, 97.0, 97.7, 98.4, 99.1, 99.8, 100.5],
  [11.3, 20.5, 21.3, 22.0, 23.0, 23.6, 24.3, 25.0, 25.6, 26.3, 27.0, 27.6, 28.3, 29.0, 29.6, 30.3, 31.0, 31.6, 32.3, 33.0, 33.6, 34.3, 35.0],
  [11.42, 20.8, 21.6, 22.3, 23.3, 24.0, 24.7, 25.3, 26.0, 26.7, 27.3, 28.0, 28.7, 29.3, 30.0, 30.7, 31.3, 32.0, 32.7, 33.3, 34.0, 34.7],
  [11.45, 53.3, 54.8, 58.1, 58.8, 59.6, 60.3, 61.0, 61.7, 62.9, 65.1, 65.8, 66.5, 69.2, 69.9, 70.7, 71.7, 73.9, 76.4, 83.0, 83.8, 84.5, 85.2, 86.0, 90.8, 91.6, 92.4, 93.3, 94.0, 95.1, 102.1],
  [11.55, 20.1, 20.8, 21.7, 22.5, 23.6, 24.0, 25.0, 25.6, 26.5, 27.2, 28.9, 30.1, 31.2, 32.5],
  [11.65, 52.6, 58.1, 69.1, 69.9, 70.6, 73.9, 74.6, 75.3, 89.6, 90.4, 91.2, 91.8, 95.5, 95.8],
  [11.8, 29.5, 30.0],
  [11.9, 60.7, 65.4, 69.5, 70.2, 73.5, 74.2, 90.5],
  [11.94, 25.8, 31.6],
  [12.1, 62.1, 65.8, 68.0, 70.9],
  [12.3, 58.7, 70.2],
];
const SV_CEP_COLS: number[][] = [
  [0.8, 9.5],
  [4.1, 9.84],
  [4.4, 10.27, 10.36],
  [4.7, 10.5],
  [5.4, 10.52],
  [5.8, 10.9],
  [6.3, 10.57],
  [6.7, 10.75, 10.93, 11.3],
  [7.4, 10.93, 11.35],
  [7.7, 11.3, 11.38, 11.5, 11.65],
  [8.0, 11.35, 11.45, 11.8, 12.0, 12.1],
  [8.5, 11.38, 11.5],
  [8.9, 11.2, 11.3, 11.4],
  [9.3, 11.38, 11.5, 11.8],
  [9.6, 10.75, 11.08, 11.35, 11.45, 11.65],
  [10.1, 10.93, 11.3, 11.5],
  [10.5, 10.55, 10.7, 11.35, 11.45, 11.5],
  [11.1, 11.3, 11.38, 11.5, 11.8],
  [11.5, 10.55, 11.35, 11.45, 11.5, 11.6, 11.7, 11.8, 11.9, 12.0],
  [12.0, 10.7, 10.93, 11.3, 11.4],
  [12.6, 10.9, 11.3, 11.45, 11.5],
  [13.0, 11.25, 11.35, 11.55],
  [13.6, 10.5, 10.62, 10.9, 11.3],
  [14.1, 10.6, 10.7, 10.95, 11.2],
  [14.6, 10.5, 10.6, 10.9, 11.08],
  [15.1, 9.92, 10.5, 10.55, 10.75, 10.93],
  [15.5, 10.5, 10.6, 10.75, 10.9, 11.67],
  [16.0, 10.27, 10.55, 10.75, 11.3],
  [16.2, 10.0, 10.5, 10.9],
  [16.6, 10.1, 10.55, 10.6, 10.75],
  [17.3, 9.8, 10.5, 10.6],
  [17.7, 9.92, 10.7],
  [18.1, 9.73, 10.25, 10.55],
  [18.4, 9.92, 10.3],
  [18.8, 9.77, 10.0, 10.07, 10.3, 10.55],
  [19.9, 10.3, 10.55, 10.6, 10.9, 11.0],
  [20.4, 10.57, 10.9, 11.0],
  [21.2, 10.27, 10.55, 10.75, 10.9],
  [21.7, 10.75, 11.0, 11.82, 11.94],
  [22.5, 11.0, 11.3, 11.55],
  [30.0, 9.95],
  [31.8, 11.3, 11.4, 11.5, 11.6, 11.7, 11.85, 11.95],
  [32.7, 11.3, 11.35, 11.4, 11.45, 11.5, 11.55, 11.6, 11.7, 11.8, 11.9, 12.0, 12.1, 12.24],
  [33.2, 11.35, 11.5, 11.6, 11.75, 11.9, 12.0],
  [33.8, 11.3, 11.35, 11.4, 11.45, 11.5, 11.6, 11.7, 11.8, 11.9, 12.0, 12.18],
  [34.0, 10.18],
  [34.4, 11.3, 11.4, 11.55, 11.65, 11.8],
  [34.9, 11.3, 11.4, 11.5, 11.6, 11.7, 11.8, 11.9, 12.0],
  [35.5, 10.2, 10.5, 10.6, 10.75, 10.93],
  [36.0, 10.1, 10.3, 10.55, 10.75, 10.93],
  [36.5, 9.95, 10.2, 10.5, 10.6, 10.75],
  [37.0, 10.1, 10.25, 10.5, 10.6, 10.93],
  [37.3, 11.43],
  [37.7, 9.68, 9.86, 9.95, 10.1, 10.3, 10.5, 10.6, 10.75, 10.93],
  [38.4, 9.86, 10.1, 10.2, 10.45, 10.55],
  [38.9, 9.95, 10.2, 10.6, 10.75],
  [39.3, 10.1, 10.3, 10.5],
  [40.4, 10.3, 10.6, 10.9, 11.0, 11.3, 11.7, 11.97],
  [41.2, 10.55, 10.9, 11.35],
  [41.9, 9.86, 10.1, 10.55, 10.7, 10.93, 11.3],
  [42.6, 10.3, 10.6, 10.9, 11.0, 11.35, 11.6],
  [43.0, 10.1, 10.6, 10.93, 11.3, 11.4],
  [43.6, 10.55, 10.7, 10.9, 11.35, 11.45],
  [44.4, 11.3, 11.35, 11.4, 11.45, 11.5, 11.55, 11.6, 11.7, 11.8, 11.9, 12.0, 12.1, 12.2, 12.42],
  [45.0, 11.35, 11.45, 11.6, 11.75, 11.9, 12.0],
  [45.6, 10.6, 10.9, 11.3, 11.4],
  [46.2, 10.55, 10.7, 10.93, 11.35, 11.45],
  [46.9, 10.5, 10.6, 10.9, 11.0, 11.3],
  [47.5, 10.6, 10.75, 10.9, 11.35, 11.5],
  [48.1, 11.1, 11.3, 11.4, 11.6],
  [48.6, 10.55, 10.93, 11.25, 11.4],
  [49.2, 10.6, 10.9, 11.3, 11.45, 11.6, 11.97],
  [49.8, 10.7, 10.95, 11.35],
  [50.4, 10.5, 10.6, 10.9, 11.25, 11.4],
  [52.0, 10.75, 10.85, 10.95, 11.05, 11.15, 11.25, 11.3],
  [54.8, 10.7, 10.8, 10.9, 11.0, 11.1, 11.2, 11.3],
  [56.6, 10.5, 10.6, 10.7, 10.8, 10.9, 11.0, 11.1, 11.2],
  [57.7, 10.5, 10.6, 10.7, 10.8, 10.9, 11.0, 11.1, 11.2],
  [58.5, 11.45, 11.55, 11.65, 11.75, 11.85, 11.95],
  [63.6, 10.45, 10.55, 10.65, 10.75, 10.85, 10.95],
  [64.3, 10.45, 10.55, 10.65, 10.75, 10.95],
  [66.9, 10.4, 10.55, 10.7, 10.85],
  [68.4, 11.0, 11.1, 11.2, 11.3, 11.4, 11.45, 11.5, 11.55, 11.6, 11.65, 11.7, 11.8, 11.9, 12.0, 12.1, 12.2, 12.3, 12.45],
  [70.9, 10.4, 10.55, 10.7, 10.85, 10.95],
  [74.8, 11.8, 11.9, 12.0, 12.1, 12.2, 12.3, 12.4, 12.5, 12.6],
  [79.6, 10.4, 10.5, 10.6, 10.7, 10.8],
  [85.6, 10.7, 10.8, 10.9, 11.0, 11.1, 11.2, 11.3, 11.35, 11.4, 11.45, 11.5, 11.55, 11.6, 11.7, 11.8, 11.9, 12.0, 12.1, 12.2, 12.3, 12.4, 12.54],
  [90.2, 11.45, 11.55, 11.65, 11.75, 11.85, 11.95, 12.05],
  [96.2, 10.4, 10.5, 10.6, 10.7],
  [101.5, 10.4, 10.5, 10.6, 10.7],
];

const STAR_ROWS = [VX_CAS_ROWS, RZ_PSC_ROWS, WW_VUL_ROWS, BH_CEP_ROWS, BO_CEP_ROWS, SV_CEP_ROWS];
const STAR_COLS = [VX_CAS_COLS, RZ_PSC_COLS, WW_VUL_COLS, BH_CEP_COLS, BO_CEP_COLS, SV_CEP_COLS];

// ---------- layout (pixels) ----------
const GRID_LEFT = 60;
const GRID_TOPS = [53, 297, 539, 788, 1025, 1268];
const GRID_HEIGHTS = [201, 197, 202, 192, 195, 197];
const GRID_WIDTHS = [1171, 1171, 1178, 1178, 1171, 1171];
const NAME_POS = [
  [104, 227],
  [101, 470],
  [104, 718],
  [104, 950],
  [104, 1193],
  [104, 1438],
];

function buildPoints(rows: number[][], cols: number[][]): number[][] {
  const pts: number[][] = [];
  for (const r of rows) {
    const mag = r[0];
    for (let i = 1; i < r.length; i++) pts.push([r[i] * DAYS_PER_YEAR, mag]);
  }
  for (const c of cols) {
    const t = c[0] * DAYS_PER_YEAR;
    for (let i = 1; i < c.length; i++) pts.push([t, c[i]]);
  }
  return pts;
}

const FONT = '"DejaVu Sans", "Liberation Sans", Arial, sans-serif';

export default function App() {
  const ref = useRef<HTMLDivElement>(null);
  useEffect(() => {
    if (!ref.current) return;
    const chart = echarts.init(ref.current, undefined, { renderer: "svg" });
    const span = JD_LAST - JD_FIRST;
    const tick = span / TICK_COUNT;

    const grids = STAR_NAMES.map((_, i) => ({
      left: GRID_LEFT,
      top: GRID_TOPS[i],
      width: GRID_WIDTHS[i],
      height: GRID_HEIGHTS[i],
      show: true,
      borderColor: "#6a6a6a",
      borderWidth: 2,
      backgroundColor: "transparent",
      containLabel: false,
    }));

    const xAxes = STAR_NAMES.map((_, i) => ({
      gridIndex: i,
      type: "value",
      position: "top",
      min: 0,
      max: span,
      interval: tick,
      axisLine: { show: true, onZero: false, lineStyle: { color: "#000", width: 2 } },
      axisTick: { show: true, inside: true, length: 6, lineStyle: { color: "#000", width: 1 } },
      splitLine: { show: false },
      axisLabel: {
        show: i === 0,
        margin: 24,
        fontSize: 18,
        fontFamily: FONT,
        color: "#222",
        showMinLabel: true,
        showMaxLabel: true,
        formatter: (v: number) => {
          const k = Math.round(v / tick);
          return k % LABEL_EVERY === 0 ? JD_TICK_LABELS[k / LABEL_EVERY] : "";
        },
      },
    }));

    const yAxes = STAR_NAMES.map((_, i) => {
      const [mn, mx] = MAG_RANGES[i];
      return {
        gridIndex: i,
        type: "value",
        inverse: true,
        min: mn,
        max: mx,
        interval: 0.5,
        axisLine: { show: true, onZero: false, lineStyle: { color: "#000", width: 2 } },
        axisTick: { show: true, length: 4, lineStyle: { color: "#000", width: 1 } },
        splitLine: { show: false },
        axisLabel: {
          margin: 13,
          fontSize: 16,
          fontFamily: FONT,
          color: "#222",
          formatter: (v: number) => {
            const k = Math.round((v - mn) / 0.5);
            return k % 2 === 0 && v < mx - 1e-6 ? v.toFixed(1) : "";
          },
        },
      };
    });

    const series = STAR_NAMES.map((name, i) => ({
      name,
      type: "scatter",
      xAxisIndex: i,
      yAxisIndex: i,
      symbol: "rect",
      symbolSize: [3.6, 3.6],
      itemStyle: { color: "#000" },
      silent: true,
      data: buildPoints(STAR_ROWS[i], STAR_COLS[i]),
    }));

    const graphic: any[] = [
      {
        type: "text",
        x: 648,
        y: 12,
        scaleX: 1.1,
        style: {
          text: "Julian date",
          font: `bold 21px ${FONT}`,
          fill: "#000",
          align: "center",
          verticalAlign: "middle",
        },
      },
      ...STAR_NAMES.map((name, i) => ({
        type: "text",
        x: NAME_POS[i][0],
        y: NAME_POS[i][1],
        scaleX: 1.12,
        style: {
          text: name,
          font: `23px ${FONT}`,
          fill: "#111",
          align: "left",
          verticalAlign: "middle",
        },
      })),
    ];

    chart.setOption({
      animation: false,
      backgroundColor: "#fff",
      grid: grids,
      xAxis: xAxes,
      yAxis: yAxes,
      series,
      graphic,
    } as any);

    return () => chart.dispose();
  }, []);

  return (
    <div
      ref={ref}
      style={{ position: "absolute", left: 0, top: 0, width: 1270, height: 1466, background: "#fff" }}
    />
  );
}
